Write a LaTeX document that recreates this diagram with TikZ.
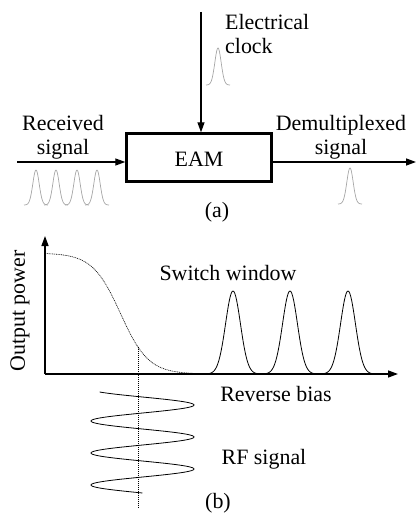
\documentclass[tikz,border=0pt]{standalone}
\usepackage{fontspec}
\setmainfont{Liberation Serif}
\usetikzlibrary{arrows.meta}
\begin{document}
\begin{tikzpicture}[x=1bp,y=-1bp,>={Triangle[length=10bp,width=7bp]},
  every node/.style={font=\fontsize{22}{24}\selectfont},
  lbl/.style={inner sep=0pt},
  sig/.style={line width=1.3bp},
  pulse/.style={gray!70,line width=0.7bp},
  curve/.style={line width=0.8bp}]
\useasboundingbox (0,0) rectangle (419,514);
\node[draw,line width=2.4bp,minimum width=145bp,minimum height=48bp,text height=19bp,text depth=0pt,inner sep=0pt] (eam) at (199,157.5) {EAM};
\coordinate (clk) at (201,12);
\coordinate (rx) at (17,162);
\coordinate (tx) at (416,162);
\draw[sig,->] (clk) -- (clk |- eam.north);
\draw[sig,->] (rx) -- (rx -| eam.west);\draw[sig,->] (rx -| eam.east) -- (tx);
\node[lbl,align=left,anchor=north west] (clock) at (225,14) {Electrical\\clock};
\node[lbl,align=center,anchor=north] (rec) at (63,115) {Received\\signal};
\node[lbl,align=center,anchor=north] (dem) at (341,115) {Demultiplexed\\signal};
\node[lbl] (a) at (217,212) {(a)};
\foreach \c in {36,56,77,97}
  \draw[pulse] plot[domain=-12:12,samples=41] ({\c+\x},{205-35*exp(-((\x/4.5)^2))});
\draw[pulse] plot[domain=-12:12,samples=41] ({218+\x},{85-37*exp(-((\x/4.5)^2))});
\draw[pulse] plot[domain=-12:12,samples=41] ({350+\x},{204-36*exp(-((\x/4.5)^2))});
\coordinate (o) at (45,374);
\coordinate (ytop) at (45,236);
\coordinate (xend) at (398,374);
\draw[sig,->] (o) -- (ytop);\draw[sig,->] (o) -- (xend);
\draw[line width=0.6bp,dash pattern=on 1bp off 0.8bp] plot[domain=45:205,samples=80] (\x,{253+121/(1+exp(-(\x-120.5)/14))});
\foreach \c in {233,290,348}
  \draw[curve] plot[domain=-28:28,samples=61] ({\c+\x},{374-83*exp(-((\x/10.5)^2))});
\coordinate (cut) at (138,347);
\coordinate (cutb) at (138,508);
\draw[densely dotted,line width=1bp] (cut) -- (cutb);
\draw[curve] plot[domain=392:493,samples=200] ({142.5-51.5*cos(11.25*(\x-389))},\x);
\node[lbl,rotate=90] (pow) at (20,311) {Output power};
\node[lbl] (win) at (228,273) {Switch window};
\node[lbl] (bias) at (276,394) {Reverse bias};
\node[lbl] (rf) at (264,459) {RF signal};
\node[lbl] (b) at (218,503) {(b)};
\end{tikzpicture}
\end{document}
